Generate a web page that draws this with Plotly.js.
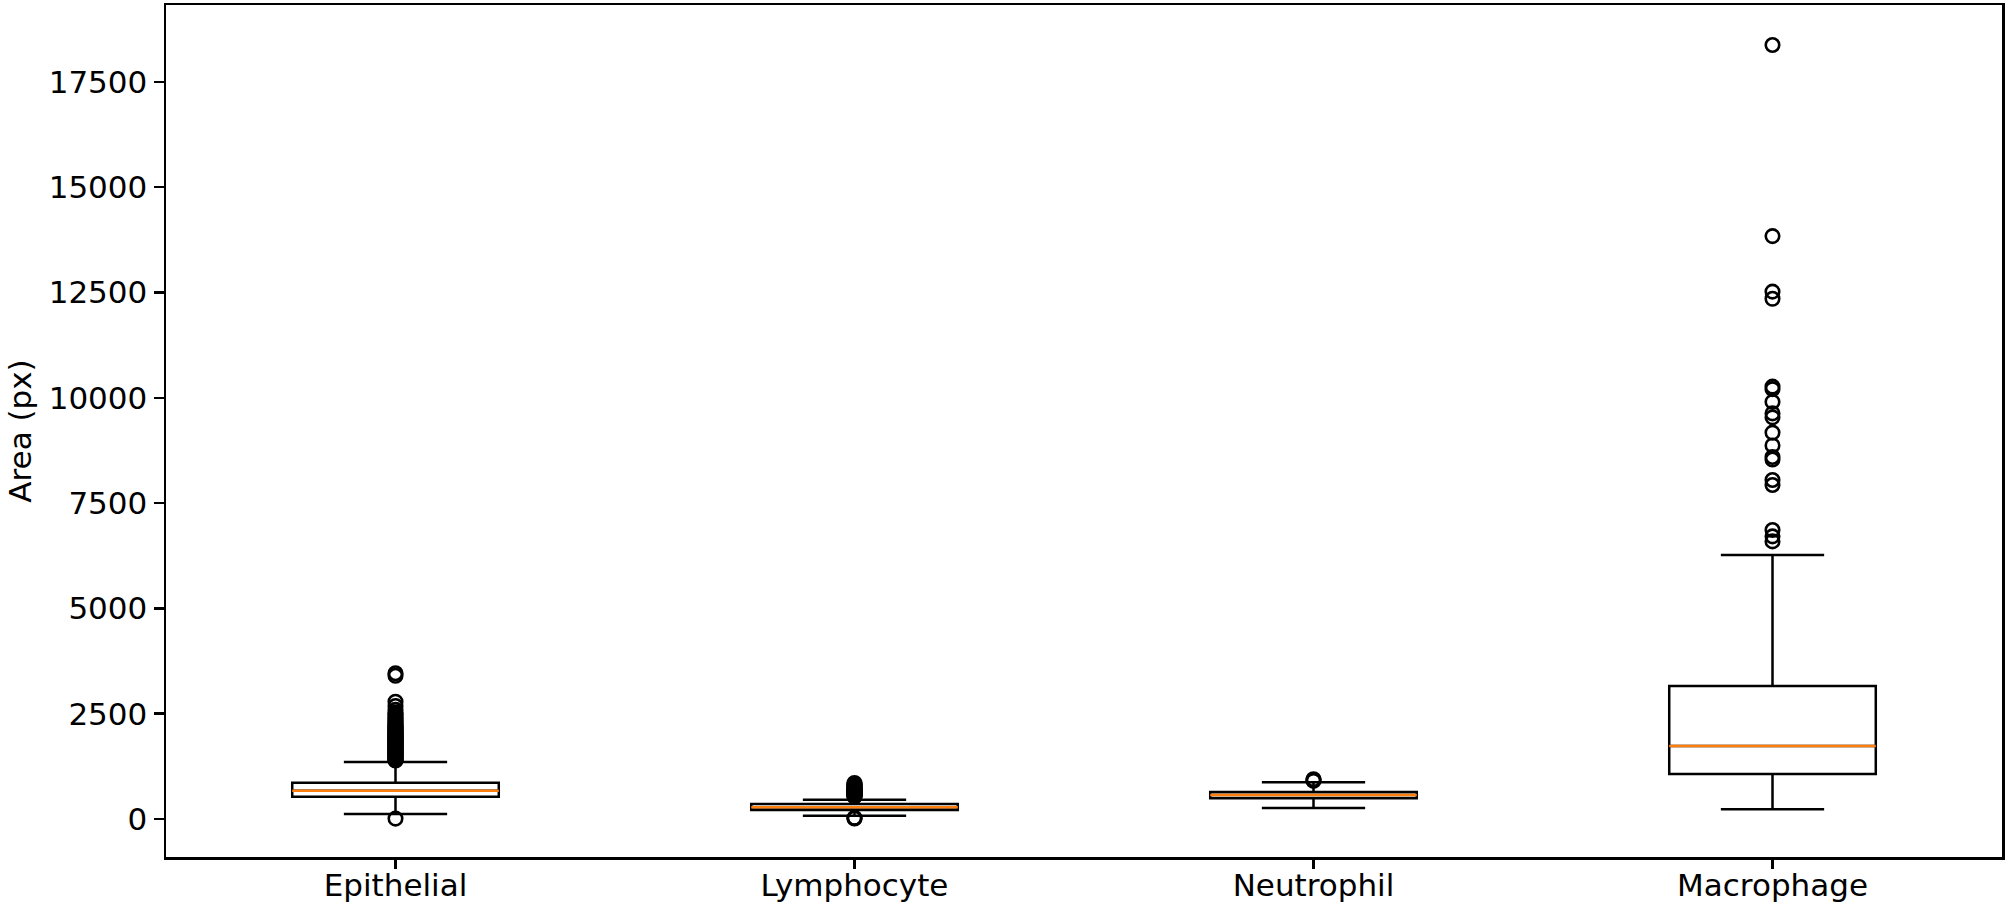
<!DOCTYPE html>
<html><head><meta charset="utf-8">
<script src="https://cdn.plot.ly/plotly-3.0.1.min.js"></script>
<style>body{margin:0;background:#fff}</style>
</head><body><div id="chart" style="width:2007px;height:909px"></div>
<script>
const categories = ["Epithelial", "Lymphocyte", "Neutrophil", "Macrophage"];
const positions = [0, 1, 2, 3];
const q1 = [529, 214, 491, 1068];
const medians = [672, 278, 570, 1733];
const q3 = [862, 356, 641, 3157];
const lowerWhisker = [119, 78, 261, 230];
const upperWhisker = [1353, 458, 871, 6267];

const epithelialOutliers = [3460, 3400, 2785, 2683, 2590, 2530, 2490, 2455, 2420, 2390, 2352, 2330, 2298, 2272, 2250, 2228, 2203, 2181, 2160, 2142, 2118, 2102, 2086, 2068, 2051, 2033, 2016, 2001, 1984, 1972, 1955, 1941, 1924, 1912, 1896, 1881, 1866, 1851, 1836, 1819, 1806, 1791, 1774, 1762, 1745, 1731, 1716, 1702, 1684, 1671, 1656, 1641, 1626, 1611, 1596, 1582, 1565, 1551, 1536, 1521, 1505, 1492, 1476, 1461, 1446, 1431, 1416, 1402, 1388, 10];
const lymphocyteOutliers = [855, 832, 811, 792, 776, 761, 745, 731, 716, 702, 690, 681, 669, 661, 650, 641, 630, 621, 612, 604, 596, 588, 579, 571, 563, 552, 541, 530, 28, 20, 12];
const neutrophilOutliers = [945, 925, 905];
const macrophageOutliers = [18375, 13838, 12520, 12350, 10266, 10205, 9902, 9629, 9536, 9173, 8869, 8594, 8534, 8048, 7929, 6861, 6711, 6590];

const yTicks = [0, 2500, 5000, 7500, 10000, 12500, 15000, 17500];
const yRange = [-902, 19325];

const outlierGroups = [epithelialOutliers, lymphocyteOutliers, neutrophilOutliers, macrophageOutliers];
const outX = [], outY = [];
outlierGroups.forEach((g, i) => g.forEach(v => { outX.push(positions[i]); outY.push(v); }));

const boxTrace = {
  type: 'box', x: positions, q1: q1, median: medians, q3: q3,
  lowerfence: lowerWhisker, upperfence: upperWhisker,
  boxpoints: false, width: 0.45, whiskerwidth: 0.5,
  line: {color: '#000000', width: 2.5}, fillcolor: 'rgba(0,0,0,0)',
  hoverinfo: 'skip', showlegend: false
};
const medianTrace = {
  type: 'box', x: positions, q1: medians, median: medians, q3: medians,
  lowerfence: medians, upperfence: medians,
  boxpoints: false, width: 0.45, whiskerwidth: 0,
  line: {color: '#ff7f0e', width: 2.5}, fillcolor: 'rgba(0,0,0,0)',
  hoverinfo: 'skip', showlegend: false
};
const outlierTrace = {
  type: 'scatter', mode: 'markers', x: outX, y: outY,
  marker: {symbol: 'circle-open', size: 13.5, color: '#000000', line: {width: 2.6, color: '#000000'}},
  hoverinfo: 'skip', showlegend: false
};

const font = {family: 'DejaVu Sans, sans-serif', size: 31, color: '#000000'};
const layout = {
  width: 2007, height: 909,
  margin: {l: 166, r: 5, t: 5, b: 52},
  paper_bgcolor: '#ffffff', plot_bgcolor: '#ffffff',
  boxmode: 'overlay', showlegend: false, font: font,
  xaxis: {
    range: [-0.5, 3.5], tickmode: 'array', tickvals: positions, ticktext: categories,
    showgrid: false, zeroline: false, showline: true, mirror: true,
    linecolor: '#000000', linewidth: 2.5, ticks: 'outside', ticklen: 9, tickwidth: 2.5,
    tickcolor: '#000000', tickfont: font, ticklabelstandoff: -10
  },
  yaxis: {
    range: yRange, tickmode: 'array', tickvals: yTicks, ticktext: yTicks.map(String),
    showgrid: false, zeroline: false, showline: true, mirror: true,
    linecolor: '#000000', linewidth: 2.5, ticks: 'outside', ticklen: 10, tickwidth: 2.5,
    tickcolor: '#000000', tickfont: font,
    title: {text: 'Area (px)', font: font, standoff: 8}
  }
};
Plotly.newPlot('chart', [boxTrace, medianTrace, outlierTrace], layout, {staticPlot: true, displayModeBar: false});
</script></body></html>
